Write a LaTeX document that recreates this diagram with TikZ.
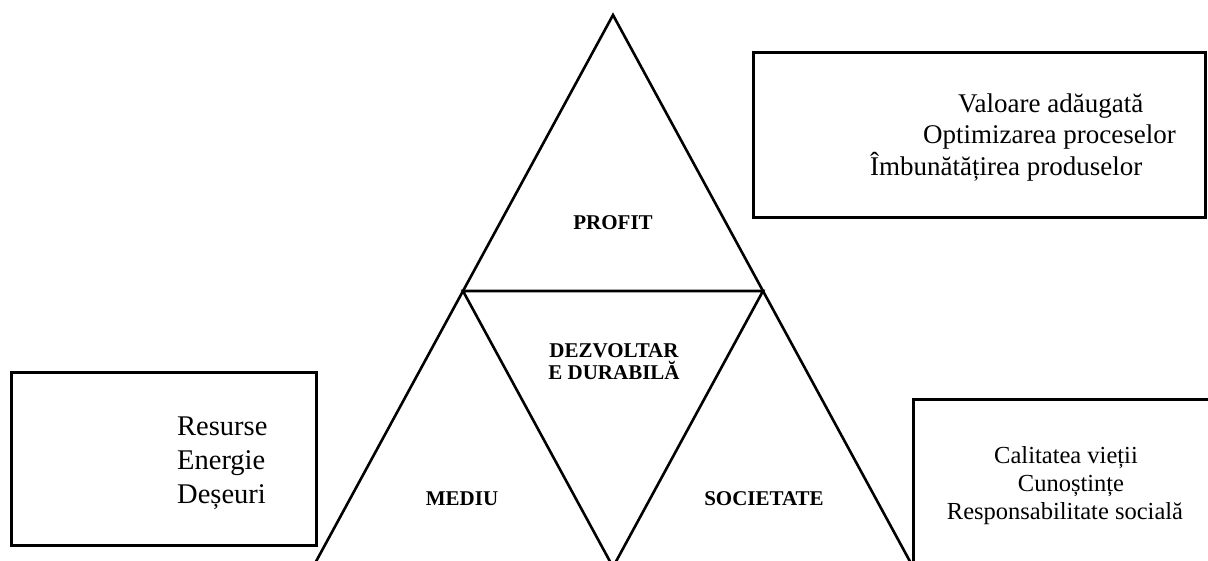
\documentclass[tikz,border=0pt]{standalone}
\usepackage{fontspec}
\setmainfont{Liberation Serif}
\begin{document}
\begin{tikzpicture}[x=1pt,y=-1pt,
  tri/.style={draw=black,line width=2.6pt,line join=miter},
  box/.style={draw=black,line width=3pt},
  lbl/.style={font=\fontsize{21}{22}\selectfont\bfseries,inner sep=0pt,anchor=base},
  ltxt/.style={font=\fontsize{28.5}{33}\selectfont,inner sep=0pt,anchor=base west},
  ttxt/.style={font=\fontsize{27}{31}\selectfont,inner sep=0pt,anchor=base west},
  rtxt/.style={font=\fontsize{24.5}{28}\selectfont,inner sep=0pt,anchor=base}]
\clip (0,0) rectangle (1208,560);
\fill[white] (0,0) rectangle (1208,560);
% triangle corners
\coordinate (A) at (613,15);
\coordinate (L) at (463,291);
\coordinate (R) at (763,291);
\coordinate (BL) at (313,567);
\coordinate (BM) at (613,567);
\coordinate (BR) at (913,567);
\draw[tri] (A) -- (BL) -- (BR) -- cycle;
\draw[tri] (L) -- (R) -- (BM) -- cycle;
% triangle labels
\node[lbl] (profit) at (613,229) {PROFIT};
\node[lbl] (dz1) at (614,357) {DEZVOLTAR};
\node[lbl] (dz2) at (614,379) {E DURABILĂ};
\node[lbl] (mediu) at (462,505) {MEDIU};
\node[lbl] (soc) at (764,505) {SOCIETATE};
% boxes
\draw[box] (753,52) rectangle (1205,217);
\draw[box] (11,372) rectangle (316,545);
\draw[box] (913,399) rectangle (1220,575);
% top-right box text
\node[ttxt] (t1) at (958,112) {Valoare adăugată};
\node[ttxt] (t2) at (923,143.5) {Optimizarea proceselor};
\node[ttxt] (t3) at (870,175) {Îmbunătățirea produselor};
% left box text
\node[ltxt] (l1) at (177,435) {Resurse};
\node[ltxt] (l2) at (177,469) {Energie};
\node[ltxt] (l3) at (177,503) {Deșeuri};
% right box text
\node[rtxt] (r1) at (1066,463) {Calitatea vieții};
\node[rtxt] (r2) at (1071,491) {Cunoștințe};
\node[rtxt] (r3) at (1065,519) {Responsabilitate socială};
\end{tikzpicture}
\end{document}
